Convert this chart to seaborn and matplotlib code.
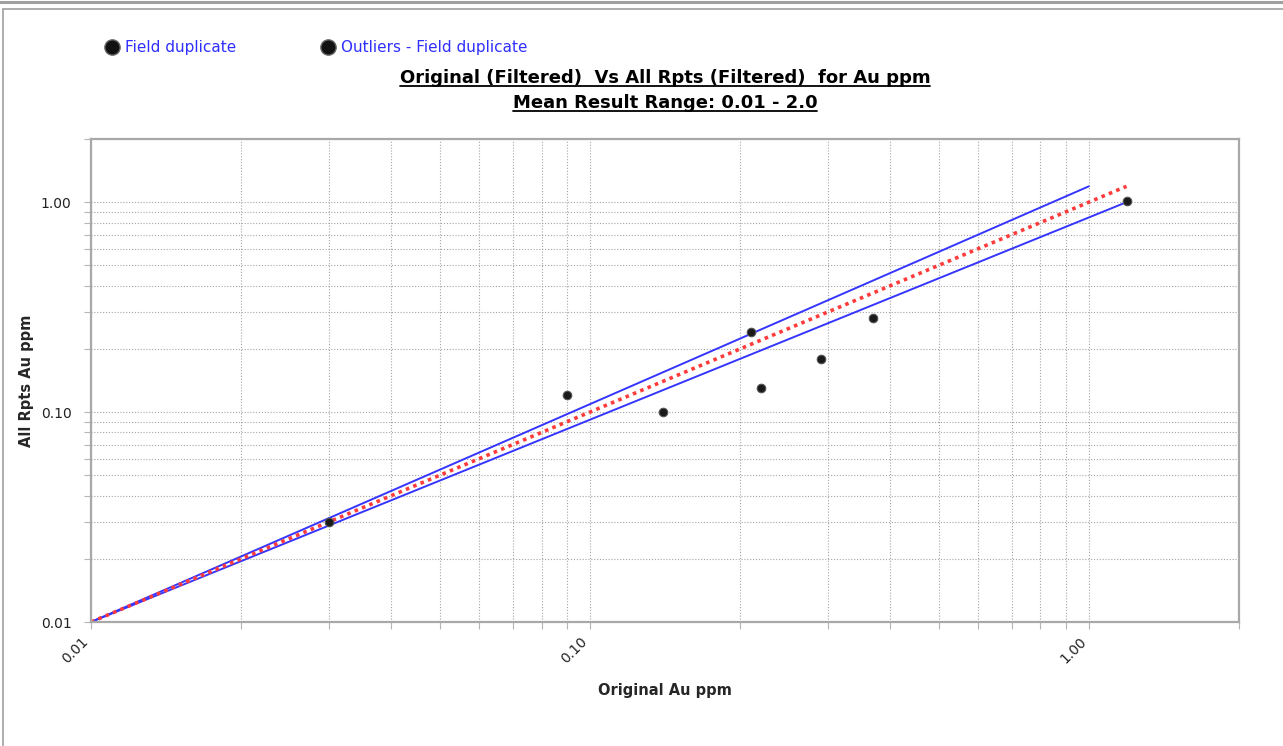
import numpy as np
import pandas as pd
import matplotlib
matplotlib.use("Agg")
import matplotlib.pyplot as plt
from matplotlib.lines import Line2D
from matplotlib.ticker import LogLocator, FormatStrFormatter, NullFormatter
import seaborn as sns

# field duplicate pairs, Au ppm
original = [0.03, 0.09, 0.14, 0.21, 0.22, 0.29, 0.37, 1.19]
repeat = [0.03, 0.12, 0.10, 0.24, 0.13, 0.18, 0.28, 1.01]

# 1:1 line and precision envelope (end points)
one_to_one_x = [0.01, 1.19]
one_to_one_y = [0.01, 1.19]
upper_x = [0.01, 1.0]
upper_y = [0.01, 1.19]
lower_x = [0.01, 1.19]
lower_y = [0.01, 1.0]

axis_range = [0.01, 2.0]
major_ticks = [0.01, 0.1, 1.0]
series_names = ["Field duplicate", "Outliers - Field duplicate"]

title1 = "Original (Filtered)  Vs All Rpts (Filtered)  for Au ppm"
title2 = "Mean Result Range: 0.01 - 2.0"

sns.set_style("white")
plt.rcParams["font.family"] = ["DejaVu Sans"]

W, H = 1283, 746
fig = plt.figure(figsize=(W / 100, H / 100), dpi=100)
ax = fig.add_axes([91 / W, 1 - 622 / H, 1148 / W, 483 / H])

df = pd.DataFrame({"original": original, "repeat": repeat})

grey = "#a8a8a8"
sns.lineplot(x=upper_x, y=upper_y, ax=ax, color="#3535ff", lw=1.4,
             sort=False, estimator=None)
sns.lineplot(x=lower_x, y=lower_y, ax=ax, color="#3535ff", lw=1.4,
             sort=False, estimator=None)
sns.lineplot(x=one_to_one_x, y=one_to_one_y, ax=ax, color="#ff3b3b", lw=2.6,
             linestyle=(0, (1, 1.2)), sort=False, estimator=None)
sns.scatterplot(data=df, x="original", y="repeat", ax=ax, s=38,
                color="#1a1a1a", edgecolor="#555555", linewidth=0.8, zorder=5)

ax.set_xscale("log")
ax.set_yscale("log")

for a in (ax.xaxis, ax.yaxis):
    a.set_major_locator(LogLocator(base=10))
    a.set_minor_locator(LogLocator(base=10, subs=np.arange(2, 10)))
    a.set_major_formatter(FormatStrFormatter("%.2f"))
    a.set_minor_formatter(NullFormatter())
ax.set_xticks(major_ticks)
ax.set_yticks(major_ticks)
ax.set_xlim(axis_range)
ax.set_ylim(axis_range)

ax.grid(True, which="both", color="#a5a5a5", lw=0.8, linestyle=(0, (1, 1.6)))
ax.set_axisbelow(True)
ax.tick_params(which="both", direction="out", length=5, width=0.8,
               color="#b5b5b5", labelsize=10, labelcolor="#222222")
ax.tick_params(axis="x", which="both", bottom=True, pad=4)
ax.tick_params(axis="y", which="both", left=True, pad=9)
plt.setp(ax.get_xticklabels(), rotation=45, ha="right")

for sp in ax.spines.values():
    sp.set_color(grey)
    sp.set_linewidth(1.6)

ax.set_xlabel("Original Au ppm", fontsize=10.5, fontweight="bold")
ax.set_ylabel("All Rpts Au ppm", fontsize=10.5, fontweight="bold")
ax.xaxis.set_label_coords(0.5, -0.127)
ax.yaxis.set_label_coords(-0.05, 0.5)

# legend across the top
handles = [Line2D([], [], marker="o", ls="", markersize=11,
                  markerfacecolor="#111111", markeredgecolor="#666666")
           for _ in series_names]
fig.legend(handles, series_names, loc="upper left",
           bbox_to_anchor=(100 / W, 1 - 34 / H), ncol=2, frameon=False,
           fontsize=11, labelcolor="#2f2fff", handlelength=0.8,
           handletextpad=0.45, columnspacing=5.6, borderaxespad=0)

# two-line underlined title
cx = (91 + 1239) / 2 / W
t1 = fig.text(cx, 1 - 78 / H, title1, ha="center", va="center",
              fontsize=13, fontweight="bold", color="black")
t2 = fig.text(cx, 1 - 103 / H, title2, ha="center", va="center",
              fontsize=13, fontweight="bold", color="black")
fig.canvas.draw()
r = fig.canvas.get_renderer()
for t in (t1, t2):
    bb = t.get_window_extent(r)
    y = (bb.y0 + 1) / fig.bbox.height
    fig.add_artist(Line2D([bb.x0 / fig.bbox.width, bb.x1 / fig.bbox.width],
                          [y, y], transform=fig.transFigure,
                          color="black", lw=1.3))

# panel frame
fig.add_artist(Line2D([0, 1], [1 - 2 / H, 1 - 2 / H], transform=fig.transFigure,
                      color="#a0a0a0", lw=2.2))
fig.add_artist(Line2D([3 / W, 1], [1 - 8.5 / H, 1 - 8.5 / H],
                      transform=fig.transFigure, color="#a0a0a0", lw=1.2))
fig.add_artist(Line2D([3 / W, 3 / W], [0, 1 - 8.5 / H],
                      transform=fig.transFigure, color="#a0a0a0", lw=1.2))

fig.savefig("out.png", dpi=100)
